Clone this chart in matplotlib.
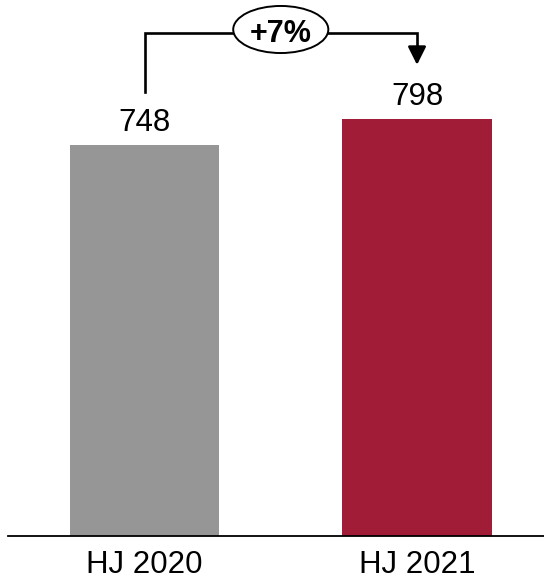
import matplotlib
matplotlib.use("Agg")
import matplotlib.pyplot as plt
from matplotlib.patches import Ellipse

categories = ["HJ 2020", "HJ 2021"]
values = [748, 798]
colors = ["#969696", "#A01C37"]
change_label = "+7%"

plt.rcParams['font.family'] = ['Liberation Sans', 'DejaVu Sans']

W, H = 544, 580
fig = plt.figure(figsize=(W / 100, H / 100), dpi=100)
ax_left_px, ax_bottom_px = 8, 44
ax = fig.add_axes([ax_left_px / W, ax_bottom_px / H, 1 - ax_left_px / W, 1 - ax_bottom_px / H])

x = list(range(len(categories)))
ax.bar(x, values, width=0.547, color=colors, zorder=2)

ax.set_xlim(-0.501, 1.466)
ax.set_ylim(0, 1025)
for s in ["top", "right", "left"]:
    ax.spines[s].set_visible(False)
ax.spines["bottom"].set_linewidth(1.3)
ax.spines["bottom"].set_color("black")
ax.set_xticks([])
ax.set_yticks([])

# value labels
for xi, v in zip(x, values):
    ax.annotate(f"{v}", xy=(xi, v), xytext=(0, 10), textcoords="offset points",
                ha="center", va="baseline", fontsize=22.5, color="black")
# category labels
for xi, c in zip(x, categories):
    ax.annotate(c, xy=(xi, 0), xytext=(0, -26.5), textcoords="offset points",
                ha="center", va="baseline", fontsize=22.5, color="black")

# bracket
top = max(values) * 1.205
left_start = values[0] + 101
arrow_tip = values[1] + 103
lw = 1.9
ax.plot([x[0], x[0], x[1], x[1]], [left_start, top, top, arrow_tip + 25],
        color="black", lw=lw, solid_joinstyle="miter", zorder=3)
ax.annotate("", xy=(x[1], arrow_tip), xytext=(x[1], arrow_tip + 32),
            arrowprops=dict(arrowstyle="-|>,head_length=1.1,head_width=0.55",
                            color="black", lw=lw, shrinkA=0, shrinkB=0), zorder=3)
mid = (x[0] + x[1]) / 2
ell = Ellipse((mid, top + 7), width=0.349, height=90, facecolor="white",
              edgecolor="black", lw=1.4, zorder=4)
ax.add_patch(ell)
ax.text(mid, top - 2, change_label, ha="center", va="center", fontsize=22,
        fontweight="bold", color="black", zorder=5)

fig.savefig("out.png", dpi=100)
